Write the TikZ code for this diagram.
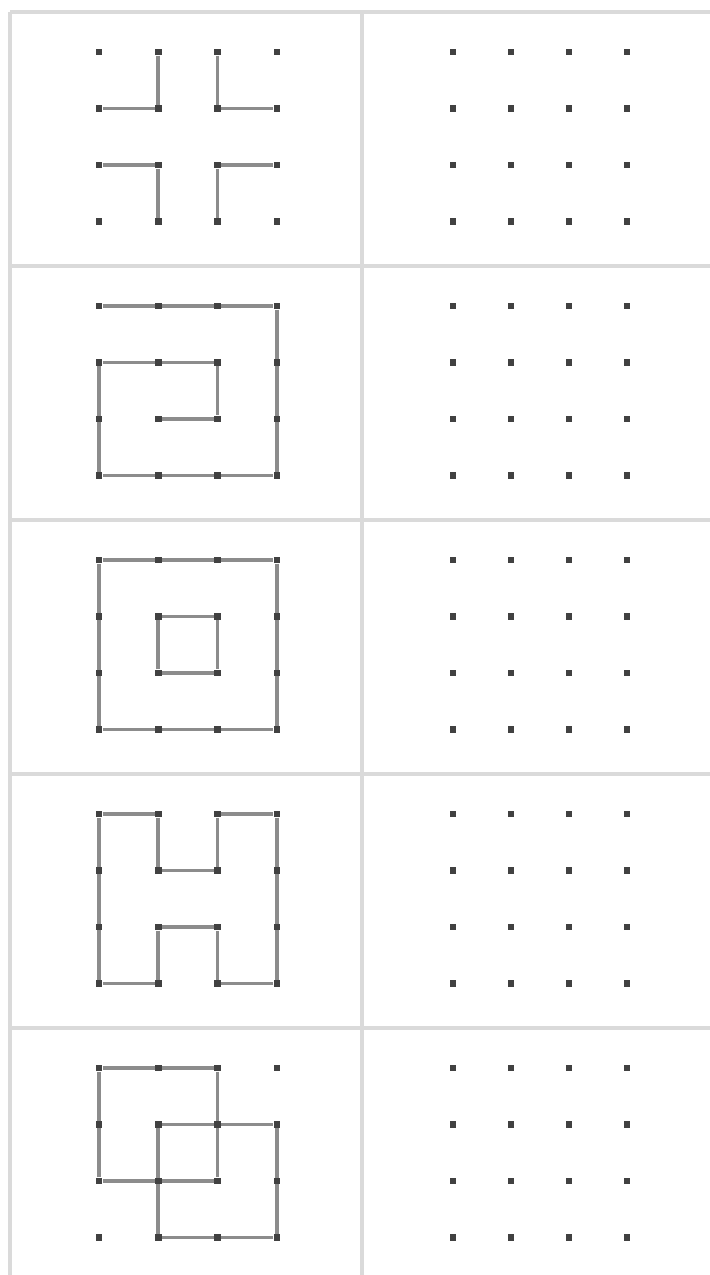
\documentclass[tikz,border=0pt]{standalone}
\usepackage{xcolor}
\usepackage{tikz}
\usetikzlibrary{backgrounds}
\definecolor{rulegray}{RGB}{218,218,218}
\definecolor{linegray}{RGB}{140,140,140}
\definecolor{dotgray}{RGB}{65,65,65}

\begin{document}
\begin{tikzpicture}[x=0.03cm, y=-0.03cm,
  dot/.style={fill=dotgray, inner sep=0pt, minimum size=0.2cm},
  seg/.style={linegray, line width=0.11cm},
  rule/.style={rulegray, line width=0.11cm}]
  \useasboundingbox (0,0) rectangle (710,1275);
  % Table
  \draw[rule] (10,12) -- (710,12);
  \draw[rule] (10,12) -- (10,1275);
  \draw[rule] (362,12) -- (362,1275);
  \foreach \k in {1,...,4}{
    \draw[rule] (10,12+254*\k) -- (710,12+254*\k);
  }
  % Dot grids, left and right
  \foreach \k in {1,...,5}{
    \foreach \c in {0,...,3}{
      \foreach \r in {0,...,3}{
        \node[dot] (a\k-\c-\r) at (99+59.3*\c, 52+254*\k-254+56.5*\r) {};
        \node[dot] (b\k-\c-\r) at (453+58*\c, 52+254*\k-254+56.5*\r) {};
      }
    }
  }
  \begin{scope}[on background layer]
    % Row 1
    \draw[seg] (a1-1-0) -- (a1-1-1) -- (a1-0-1);
    \draw[seg] (a1-2-0) -- (a1-2-1) -- (a1-3-1);
    \draw[seg] (a1-0-2) -- (a1-1-2) -- (a1-1-3);
    \draw[seg] (a1-3-2) -- (a1-2-2) -- (a1-2-3);
    % Row 2
    \draw[seg] (a2-0-0) -- (a2-3-0) -- (a2-3-3) -- (a2-0-3) -- (a2-0-1)
      -- (a2-2-1) -- (a2-2-2) -- (a2-1-2);
    % Row 3
    \draw[seg] (a3-0-0) -- (a3-3-0) -- (a3-3-3) -- (a3-0-3) -- (a3-0-0);
    \draw[seg] (a3-1-1) -- (a3-2-1) -- (a3-2-2) -- (a3-1-2) -- (a3-1-1);
    % Row 4
    \draw[seg] (a4-0-0) -- (a4-1-0) -- (a4-1-1) -- (a4-2-1) -- (a4-2-0)
      -- (a4-3-0) -- (a4-3-3) -- (a4-2-3) -- (a4-2-2) -- (a4-1-2)
      -- (a4-1-3) -- (a4-0-3) -- (a4-0-0);
    % Row 5
    \draw[seg] (a5-0-0) -- (a5-2-0) -- (a5-2-2) -- (a5-0-2) -- (a5-0-0);
    \draw[seg] (a5-1-1) -- (a5-3-1) -- (a5-3-3) -- (a5-1-3) -- (a5-1-1);
  \end{scope}
\end{tikzpicture}
\end{document}
